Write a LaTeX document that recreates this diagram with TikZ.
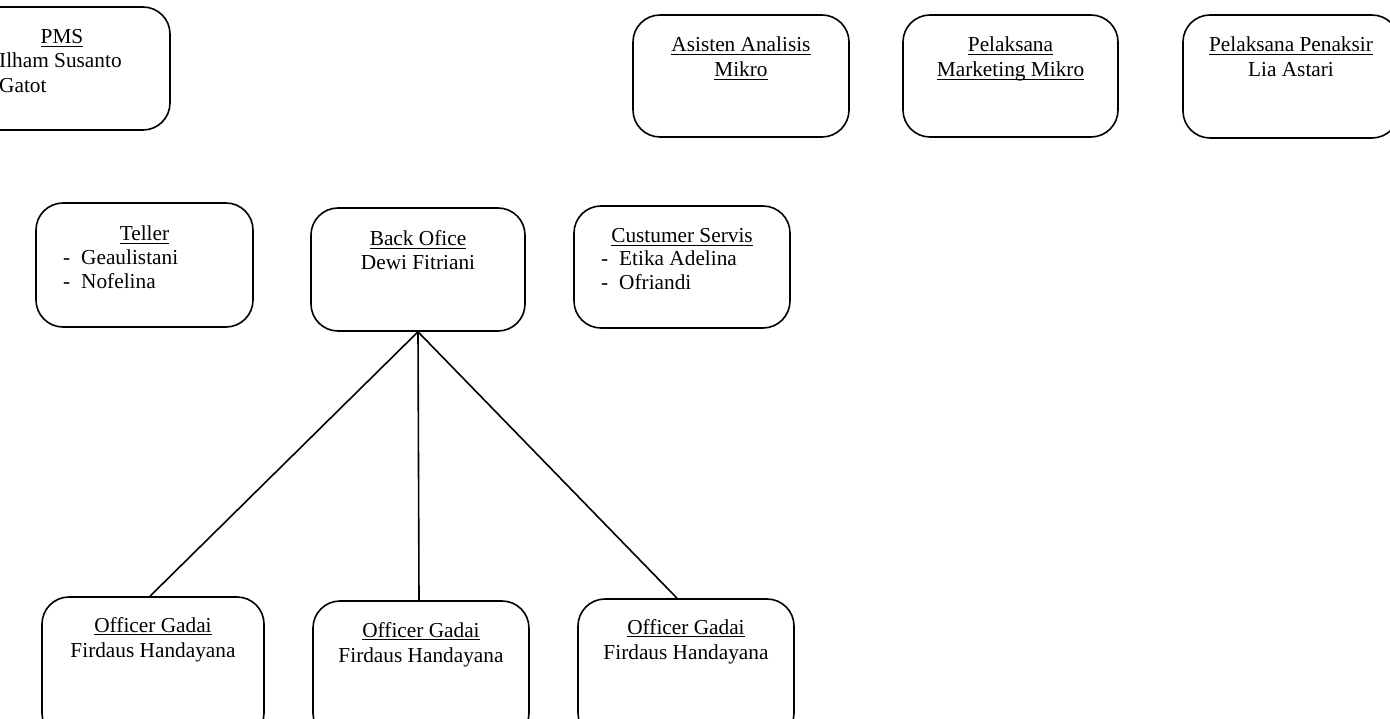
\documentclass[tikz,border=0pt]{standalone}
\usepackage{fontspec}
\setmainfont{Liberation Serif}
\newcommand\myul[1]{\setbox0\hbox{#1}\rlap{\rule[-3pt]{\wd0}{0.9pt}}\box0}
\begin{document}
\begin{tikzpicture}[x=1pt,y=-1pt,
  box/.style={draw, line width=1.6pt, rounded corners=27pt, inner sep=0pt},
  txt/.style={font=\fontsize{21.3}{25}\selectfont, inner sep=0pt, anchor=base},
  lst/.style={txt, anchor=base west},
  conn/.style={line width=1.6pt}]
\useasboundingbox (0,0) rectangle (1390,719);
\clip (0,0) rectangle (1390,719);
% boxes
\node[box, minimum width=216pt, minimum height=123pt] (pms) at (62,68.5) {};
\node[box, minimum width=216pt, minimum height=122pt] (asis) at (741,76) {};
\node[box, minimum width=215pt, minimum height=122pt] (mark) at (1010.5,76) {};
\node[box, minimum width=216pt, minimum height=123pt] (pen) at (1291,76.5) {};
\node[box, minimum width=217pt, minimum height=124pt] (tel) at (144.5,265) {};
\node[box, minimum width=214pt, minimum height=123pt] (bo) at (418,269.5) {};
\node[box, minimum width=216pt, minimum height=122pt] (cs) at (682,267) {};
\node[box, minimum width=222pt, minimum height=143pt] (o1) at (153,668.5) {};
\node[box, minimum width=216pt, minimum height=139pt] (o2) at (421,670.5) {};
\node[box, minimum width=216pt, minimum height=141pt] (o3) at (686,669.5) {};
% texts
\node[txt] (pmsA) at (62,44) {\myul{PMS}};
\node[lst] (pmsB) at (-1,68) {Ilham Susanto};
\node[lst] (pmsC) at (-1,93) {Gatot};
\node[txt] (asisA) at (741,52) {\myul{Asisten Analisis}};
\node[txt] (asisB) at (741,77) {\myul{Mikro}};
\node[txt] (markA) at (1010.5,52) {\myul{Pelaksana}};
\node[txt] (markB) at (1010.5,77) {\myul{Marketing Mikro}};
\node[txt] (penA) at (1291,52) {\myul{Pelaksana Penaksir}};
\node[txt] (penB) at (1291,77) {Lia Astari};
\node[txt] (telA) at (144.5,241) {\myul{Teller}};
\node[lst] (telD1) at (63,265) {-};
\node[lst] (telB) at (81,265) {Geaulistani};
\node[lst] (telD2) at (63,289) {-};
\node[lst] (telC) at (81,289) {Nofelina};
\node[txt] (boA) at (418,246) {\myul{Back Ofice}};
\node[txt] (boB) at (418,270) {Dewi Fitriani};
\node[txt] (csA) at (682,243) {\myul{Custumer Servis}};
\node[lst] (csD1) at (601,266) {-};
\node[lst] (csB) at (619,266) {Etika Adelina};
\node[lst] (csD2) at (601,290) {-};
\node[lst] (csC) at (619,290) {Ofriandi};
\node[txt] (o1A) at (153,632) {\myul{Officer Gadai}};
\node[txt] (o1B) at (153,657) {Firdaus Handayana};
\node[txt] (o2A) at (421,637) {\myul{Officer Gadai}};
\node[txt] (o2B) at (421,662) {Firdaus Handayana};
\node[txt] (o3A) at (686,634) {\myul{Officer Gadai}};
\node[txt] (o3B) at (686,659) {Firdaus Handayana};
% connectors
\draw[conn] (bo.south) -- ([xshift=-3pt]o1.north);
\draw[conn] (bo.south) -- ([xshift=-2pt]o2.north);
\draw[conn] (bo.south) -- ([xshift=-9pt]o3.north);
\end{tikzpicture}
\end{document}
